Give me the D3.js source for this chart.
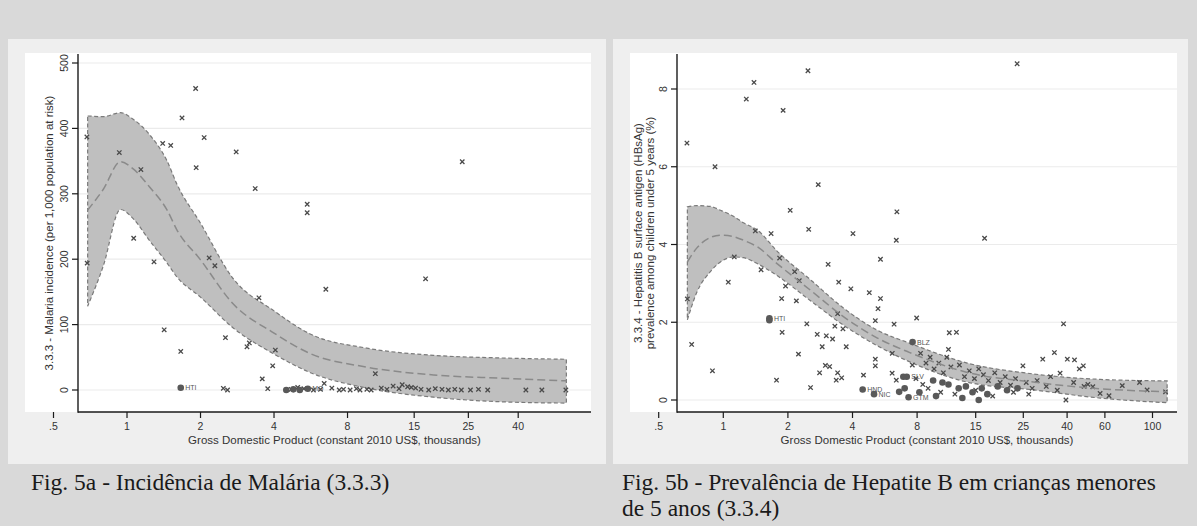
<!DOCTYPE html>
<html><head><meta charset="utf-8">
<script src="https://cdn.jsdelivr.net/npm/d3@7"></script>
<style>body{margin:0;background:#d9d9d9;} svg{display:block}</style>
</head><body><svg id="c" width="1197" height="526"></svg>
<script>
// ---------- DATA ----------
// Fig 5a: Malaria incidence vs GDP (thousands, log scale)
const malariaXGdp = [0.685,0.687,0.93,1.065,1.14,1.29,1.40,1.42,1.51,1.66,1.68,1.91,1.92,2.07,2.17,2.29,2.48,2.53,2.58,2.80,3.1,3.17,3.35,3.47,3.58,3.77,3.95,4.05,5.47,5.47,6.42,6.52,10.4,16.7,23.6,43,50,62.7,
  4.7,5.0,5.3,5.8,6.2,6.9,7.4,7.7,8.2,8.7,9.0,9.6,10.0,11.0,11.6,12.3,13.0,13.4,14.1,14.6,15.2,16.0,17.2,18.3,19.5,20.7,22.0,23.4,25.5,27.5,30.0];
const malariaXVal = [387,194,363,232,337,196,377,92,374,59,416,461,340,386,202,190,2.5,80,0,364,66,72,308,141,17,2,37,61,284,271,10,154,25,170,349,0,0,0,
  1,4,2,0,1,3,0,1,0,2,0,1,0,3,1,6,2,8,5,4,3,1,0,2,1,0,1,0,0,1,0];
const malariaDotGdp = [1.66,4.49,4.8,5.1,5.5];
const malariaDotVal = [3.5,0,1,0,2];
const malariaDotLab = ["HTI","","","","MO"];
const malariaBandGdp = [0.69,0.8,0.94,1.06,1.24,1.46,1.6,2,2.7,4,5.6,9.6,18,34,63];
const malariaFit = [275,307,349,338,310,275,245,199,133,87,56,35,23,18,14];
const malariaHi  = [419,418,424,414,390,350,315,255,172,121,86,64,53,49,47];
const malariaLo  = [128,190,276,262,228,194,173,142,96,55,27,3,-11,-18,-20];
const malariaYTicks = [0,100,200,300,400,500];
const malariaXTicks = [0.5,1,2,4,8,15,25,40];
const malariaXLabels = [".5","1","2","4","8","15","25","40"];

// Fig 5b: Hepatitis B prevalence vs GDP
const hepXPts = [[0.677,6.61],[0.915,6.0],[1.28,7.74],[1.39,8.17],[1.90,7.45],[2.48,8.47],[2.77,5.54],[2.05,4.88],[6.44,4.84],[2.5,4.39],[23.4,8.65],
 [0.68,2.6],[0.712,1.43],[0.89,0.75],[1.055,3.03],[1.125,3.68],[1.41,4.35],[1.67,4.28],[1.5,3.35],[1.83,3.65],[1.95,2.93],[1.87,2.61],[1.88,1.74],[1.77,0.51],[2.15,3.3],[2.26,3.07],[2.19,2.55],[2.45,1.96],[2.24,1.18],[2.55,0.32],[2.74,1.69],[2.89,1.37],[3.02,1.65],[3.23,1.57],[3.08,3.49],[3.45,3.03],[3.41,2.22],[3.31,1.9],[3.61,1.83],[3.74,1.37],[2.99,0.89],[3.13,0.86],[2.81,0.70],[3.41,0.70],[3.56,0.57],[3.36,0.51],[4.02,4.28],[3.93,2.86],[4.5,0.64],[4.79,2.76],[5.4,3.62],[5.4,2.61],[5.26,2.35],[5.11,2.04],[5.11,1.05],[5.11,0.88],[6.4,4.11],[6.25,1.95],[6.13,1.2],[6.12,0.69],[6.4,0.51],
 [16.5,4.16],[7.96,2.11],[11.3,1.73],[12.2,1.74],[11.2,1.3],[11.0,1.1],[24.9,0.88],[30.8,1.05],[34.9,1.22],[38.5,1.96],[40.1,1.05],[43.3,1.03],[47.6,0.88],[45.6,0.8],[37.1,0.69],[42.9,0.45],[52.7,0.34],[72.3,0.37],[87,0.45],[94.4,0.26],[115,0.21],[62.7,0.11],[57,0.17],[39.5,0],
 [8.3,1.2],[8.8,0.95],[9.2,1.1],[9.6,0.8],[10.1,0.95],[10.6,0.7],[11.5,0.85],[12.6,0.9],[13.3,0.6],[14,0.75],[14.8,0.55],[15.5,0.8],[16.3,0.65],[17.2,0.5],[18.4,0.7],[19.5,0.45],[20.6,0.6],[21.8,0.38],[23,0.55],[25.8,0.45],[27.5,0.3],[29,0.5],[32,0.35],[33.5,0.6],[36,0.25],[48,0.35],[50,0.4],[9.0,0.3],[10.3,0.2],[12.0,0.15],[15.0,0.25],[18.0,0.1],[22.5,0.2],[26.5,0.15],[7.6,0.9],[7.9,0.55],[8.5,0.4]];
const hepDotGdp = [1.64,1.64,4.46,5.04,6.6,7.16,7.62,7.3,9.5,10.5,11.2,12.5,13.5,14.5,16,17,19,21,23.5,8.2,9.8,13,15.5,6.9,7.0];
const hepDotVal = [2.1,2.05,0.27,0.15,0.21,0.6,1.49,0.07,0.5,0.45,0.4,0.3,0.35,0.2,0.3,0.15,0.35,0.25,0.3,0.2,0.1,0.05,0.0,0.6,0.3];
const hepDotLab = ["HTI","","HND","NIC","","SLV","BLZ","GTM","","","","","","","","","","","","","","","","",""];
const hepBandGdp = [0.68,0.75,0.87,0.97,1.12,1.24,1.45,1.78,2.54,3.64,5.2,7.4,13.7,27.9,57,117];
const hepFit = [3.55,3.9,4.18,4.24,4.2,4.11,3.93,3.51,2.83,2.14,1.6,1.22,0.71,0.46,0.29,0.21];
const hepHi  = [4.97,5.0,4.98,4.88,4.72,4.56,4.36,3.83,3.1,2.36,1.8,1.46,0.95,0.67,0.53,0.49];
const hepLo  = [2.06,2.75,3.3,3.55,3.68,3.66,3.5,3.2,2.56,1.92,1.4,0.98,0.46,0.26,0.05,-0.07];
const hepYTicks = [0,2,4,6,8];
const hepXTicks = [0.5,1,2,4,8,15,25,40,60,100];
const hepXLabels = [".5","1","2","4","8","15","25","40","60","100"];

const xTitle = "Gross Domestic Product (constant 2010 US$, thousands)";
const xTitleB = "Gross Domestic Product (constant 2010 US$, thousands)";
const yTitleA = ["3.3.3 - Malaria incidence (per 1,000 population at risk)"];
const yTitleB = ["3.3.4 - Hepatitis B surface antigen (HBsAg)","prevalence among children under 5 years (%)"];
const captionA = ["Fig. 5a - Incidência de Malária (3.3.3)"];
const captionB = ["Fig. 5b - Prevalência de Hepatite B em crianças menores","de 5 anos (3.3.4)"];

// ---------- DRAW ----------
const svg = d3.select("#c");
const SANS = "'Liberation Sans', Arial, sans-serif";
const SERIF = "'Liberation Serif', 'Times New Roman', serif";
svg.append("rect").attr("width",1197).attr("height",526).attr("fill","#d9d9d9");

function panel(o){
  const g = svg.append("g");
  g.append("rect").attr("x",o.px0).attr("y",39).attr("width",o.px1-o.px0).attr("height",425).attr("fill","#efefef");
  g.append("rect").attr("x",o.wx0).attr("y",53).attr("width",o.wx1-o.wx0).attr("height",359).attr("fill","#ffffff");
  const x = d3.scaleLog().domain(o.xDom).range(o.xRange);
  const y = d3.scaleLinear().domain(o.yDom).range(o.yRange);
  g.selectAll(".grid").data(o.yTicks).join("line")
    .attr("x1",o.ax).attr("x2",o.wx1).attr("y1",d=>y(d)).attr("y2",d=>y(d))
    .attr("stroke","#ebebeb").attr("stroke-width",1.2);
  const band = o.bandG.map((gdp,i)=>({g:gdp,f:o.fit[i],h:o.hi[i],l:o.lo[i]}));
  const area = d3.area().x(d=>x(d.g)).y0(d=>y(d.l)).y1(d=>y(d.h)).curve(d3.curveMonotoneX);
  g.append("path").attr("d",area(band)).attr("fill","#bfbfbf")
    .attr("stroke","#7a7a7a").attr("stroke-width",1.2).attr("stroke-dasharray","4,2.5");
  g.selectAll(".xm").data(o.xpts).join("path")
    .attr("transform",d=>`translate(${x(d[0])},${y(d[1])})`)
    .attr("d","M-2.2,-2.2L2.2,2.2M-2.2,2.2L2.2,-2.2")
    .attr("stroke","#4a4a4a").attr("stroke-width",1.3).attr("fill","none");
  const dots = o.dotG.map((gdp,i)=>({g:gdp,v:o.dotV[i],l:o.dotL[i]}));
  g.selectAll(".dt").data(dots).join("circle")
    .attr("cx",d=>x(d.g)).attr("cy",d=>y(d.v)).attr("r",3.3).attr("fill","#595959");
  g.selectAll(".dl").data(dots.filter(d=>d.l)).join("text")
    .attr("x",d=>x(d.g)+4.5).attr("y",d=>y(d.v)+2.5).text(d=>d.l)
    .attr("font-family",SANS).attr("font-size",7).attr("fill","#555");
  const line = d3.line().x(d=>x(d.g)).y(d=>y(d.f)).curve(d3.curveMonotoneX);
  g.append("path").attr("d",line(band)).attr("fill","none")
    .attr("stroke","#8a8a8a").attr("stroke-width",1.5).attr("stroke-dasharray","8,4");
  g.append("line").attr("x1",o.ax).attr("x2",o.ax).attr("y1",54).attr("y2",412.7).attr("stroke","#1a1a1a").attr("stroke-width",1.4);
  g.append("line").attr("x1",o.ax).attr("x2",o.wx1).attr("y1",412).attr("y2",412).attr("stroke","#1a1a1a").attr("stroke-width",1.4);
  g.selectAll(".yt").data(o.yTicks).join("line")
    .attr("x1",o.ax-6).attr("x2",o.ax).attr("y1",d=>y(d)).attr("y2",d=>y(d)).attr("stroke","#1a1a1a").attr("stroke-width",1.2);
  g.selectAll(".ytl").data(o.yTicks).join("text")
    .attr("transform",d=>`translate(${o.ylabX},${y(d)}) rotate(-90)`)
    .attr("text-anchor","middle").attr("dominant-baseline","central")
    .attr("font-family",SANS).attr("font-size",10.5).attr("fill","#333").text(d=>d);
  g.selectAll(".xt").data(o.xTicks).join("line")
    .attr("x1",d=>x(d)).attr("x2",d=>x(d)).attr("y1",412).attr("y2",418).attr("stroke","#1a1a1a").attr("stroke-width",1.2);
  g.selectAll(".xtl").data(o.xTicks).join("text")
    .attr("x",d=>x(d)).attr("y",430).attr("text-anchor","middle")
    .attr("font-family",SANS).attr("font-size",10.5).attr("fill","#333").text((d,i)=>o.xLabels[i]);
  g.append("text").attr("x",(o.ax+o.wx1)/2).attr("y",444).attr("text-anchor","middle")
    .attr("font-family",SANS).attr("font-size",11.5).attr("fill","#333").text(o.xTitle);
  o.yTitle.forEach((t,i)=>{
    g.append("text").attr("transform",`translate(${o.yTitleX[i]},233) rotate(-90)`)
      .attr("text-anchor","middle").attr("dominant-baseline","central")
      .attr("font-family",SANS).attr("font-size",11.5).attr("fill","#333").text(t);
  });
  o.caption.forEach((t,i)=>{
    g.append("text").attr("x",o.capX).attr("y",490+i*26).attr("font-family",SERIF)
      .attr("font-size",23.5).attr("fill","#1a1a1a").text(t);
  });
}

panel({px0:8,px1:606,wx0:25,wx1:591,ax:78,
  xDom:[0.5,40],xRange:[53.5,518.2],yDom:[0,500],yRange:[390,63],
  yTicks:malariaYTicks,xTicks:malariaXTicks,xLabels:malariaXLabels,
  bandG:malariaBandGdp,fit:malariaFit,hi:malariaHi,lo:malariaLo,
  xpts:malariaXGdp.map((g,i)=>[g,malariaXVal[i]]),
  dotG:malariaDotGdp,dotV:malariaDotVal,dotL:malariaDotLab,
  ylabX:64,yTitle:yTitleA,yTitleX:[49],xTitle:xTitle,caption:captionA,capX:31});

panel({px0:613,px1:1188,wx0:630,wx1:1177,ax:677,
  xDom:[0.5,100],xRange:[658.7,1152.5],yDom:[0,8],yRange:[400,89],
  yTicks:hepYTicks,xTicks:hepXTicks,xLabels:hepXLabels,
  bandG:hepBandGdp,fit:hepFit,hi:hepHi,lo:hepLo,
  xpts:hepXPts,
  dotG:hepDotGdp,dotV:hepDotVal,dotL:hepDotLab,
  ylabX:663,yTitle:yTitleB,yTitleX:[638,650],xTitle:xTitleB,caption:captionB,capX:622});
</script></body></html>
